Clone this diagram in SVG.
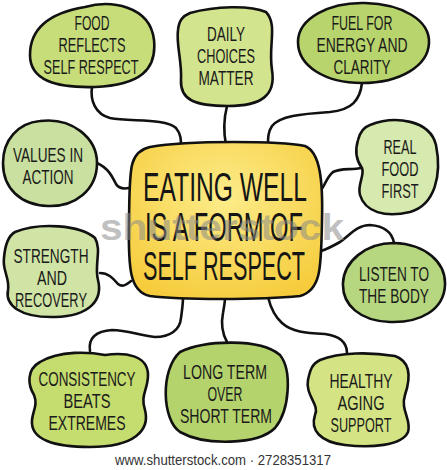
<svg xmlns="http://www.w3.org/2000/svg" width="447" height="470" viewBox="0 0 447 470">
<style>
.blob{stroke:#111;stroke-width:2.6;stroke-linejoin:round}
.lbl{font-family:"Liberation Sans","DejaVu Sans",sans-serif;font-size:20px;fill:#1a1a1a;text-anchor:middle}
.big{font-family:"Liberation Sans","DejaVu Sans",sans-serif;font-size:40px;fill:#151515;text-anchor:middle}
.conn path{fill:none;stroke:#111;stroke-width:2.6;stroke-linecap:round}
</style>
<defs>
<radialGradient id="yg" cx="0.5" cy="0.35" r="0.7">
<stop offset="0" stop-color="#fcec8a"/>
<stop offset="1" stop-color="#f6cc3c"/>
</radialGradient>
</defs>
<rect width="447" height="470" fill="#ffffff"/>
<g id="connectors" class="conn">
<path d="M92,87 C90,100 95,114 110,118 C130,122 165,118 176,128 C181,134 181,140 181,146"/>
<path d="M227,106 C224,118 223,130 226,145"/>
<path d="M362,83 C360,100 352,110 330,112 C300,114 280,116 272,126 C268,132 268,138 268,145"/>
<path d="M97,163 C108,168 112,176 116,184 C119,189 124,189 129,188"/>
<path d="M100,273 C108,273 113,278 118,284 C123,288 127,284 131,281"/>
<path d="M362,168 C350,170 340,168 333,172 C326,178 325,186 320,191"/>
<path d="M394,243 C392,232 384,226 370,225 C357,225 350,235 340,242 C333,246 327,249 321,251"/>
<path d="M90,351 C88,338 96,331 112,330 C128,330 140,336 155,337 C170,337 180,330 181,318 C182,310 183,305 183,297"/>
<path d="M227,342 C222,333 221,323 223,313 C224,307 225,302 225,298"/>
<path d="M347,353 C347,342 340,336 325,334 C305,333 292,332 282,323 C274,316 270,305 268,297"/>
</g>
<g id="center">
<path class="blob" fill="url(#yg)" d="M150,147 C190,140 280,141 305,146 C320,152 323,180 322,220 C321,265 322,290 300,296 C260,300 180,300 150,296 C130,292 128,270 129,220 C130,170 128,152 150,147 Z"/>
<text class="big" x="225" y="201" textLength="164" lengthAdjust="spacingAndGlyphs">EATING WELL</text>
<text class="big" x="224" y="241" textLength="158" lengthAdjust="spacingAndGlyphs">IS A FORM OF</text>
<text class="big" x="224" y="280" textLength="162" lengthAdjust="spacingAndGlyphs">SELF RESPECT</text>
</g>
<g id="food-reflects">
<path class="blob" fill="#c6dd7a" d="M85,7 C110,0 150,5 154,40 C157,70 140,85 95,87 C55,88 30,80 30,55 C30,25 55,12 85,7 Z"/>
<text class="lbl" x="92" y="30" textLength="35" lengthAdjust="spacingAndGlyphs">FOOD</text>
<text class="lbl" x="92" y="52" textLength="67" lengthAdjust="spacingAndGlyphs">REFLECTS</text>
<text class="lbl" x="91" y="74" textLength="95" lengthAdjust="spacingAndGlyphs">SELF RESPECT</text>
</g>
<g id="daily-choices">
<path class="blob" fill="#d3e48e" d="M190,13 C215,6 250,5 266,12 C278,25 268,45 272,70 C276,95 262,106 228,106 C195,106 180,100 181,80 C182,60 176,45 178,30 C179,20 183,16 190,13 Z"/>
<text class="lbl" x="226" y="41" textLength="38" lengthAdjust="spacingAndGlyphs">DAILY</text>
<text class="lbl" x="226" y="63" textLength="58" lengthAdjust="spacingAndGlyphs">CHOICES</text>
<text class="lbl" x="226" y="85" textLength="55" lengthAdjust="spacingAndGlyphs">MATTER</text>
</g>
<g id="fuel">
<path class="blob" fill="#b8d46c" d="M298,42 C298,18 330,2 365,3 C402,4 430,20 429,43 C428,66 400,83 362,83 C325,83 298,66 298,42 Z"/>
<text class="lbl" x="362" y="30" textLength="61" lengthAdjust="spacingAndGlyphs">FUEL FOR</text>
<text class="lbl" x="362" y="52" textLength="91" lengthAdjust="spacingAndGlyphs">ENERGY AND</text>
<text class="lbl" x="362" y="74" textLength="57" lengthAdjust="spacingAndGlyphs">CLARITY</text>
</g>
<g id="values">
<path class="blob" fill="#c9e0a0" d="M40,121 C72,117 97,138 97,163 C97,190 75,207 48,206 C20,205 3,188 3,163 C3,140 18,123 40,121 Z"/>
<text class="lbl" x="48" y="162" textLength="70" lengthAdjust="spacingAndGlyphs">VALUES IN</text>
<text class="lbl" x="48" y="184" textLength="51" lengthAdjust="spacingAndGlyphs">ACTION</text>
</g>
<g id="strength">
<path class="blob" fill="#d0e4a6" d="M15,232 C40,222 80,225 95,238 C102,250 94,265 98,280 C103,300 90,316 55,317 C20,318 5,305 8,290 C10,278 2,270 4,258 C5,245 8,236 15,232 Z"/>
<text class="lbl" x="51" y="263" textLength="75" lengthAdjust="spacingAndGlyphs">STRENGTH</text>
<text class="lbl" x="52" y="285" textLength="30" lengthAdjust="spacingAndGlyphs">AND</text>
<text class="lbl" x="51" y="307" textLength="72" lengthAdjust="spacingAndGlyphs">RECOVERY</text>
</g>
<g id="real-food">
<path class="blob" fill="#d6e9ae" d="M370,125 C395,115 430,120 436,145 C442,175 435,205 410,212 C385,218 365,212 360,195 C357,185 365,175 362,168 C356,160 355,150 358,140 C360,132 364,127 370,125 Z"/>
<text class="lbl" x="400" y="154" textLength="33" lengthAdjust="spacingAndGlyphs">REAL</text>
<text class="lbl" x="400" y="176" textLength="37" lengthAdjust="spacingAndGlyphs">FOOD</text>
<text class="lbl" x="400" y="198" textLength="37" lengthAdjust="spacingAndGlyphs">FIRST</text>
</g>
<g id="listen">
<path class="blob" fill="#b6d77f" d="M394,243 C425,244 446,262 445,285 C444,310 420,323 390,322 C360,321 342,305 343,283 C344,262 365,243 394,243 Z"/>
<text class="lbl" x="394" y="281" textLength="70" lengthAdjust="spacingAndGlyphs">LISTEN TO</text>
<text class="lbl" x="394" y="303" textLength="70" lengthAdjust="spacingAndGlyphs">THE BODY</text>
</g>
<g id="consistency">
<path class="blob" fill="#c5dc6e" d="M40,362 C60,350 90,352 105,355 C125,352 148,355 148,375 C148,390 140,395 145,410 C150,430 135,447 90,447 C55,447 30,440 32,420 C33,410 38,405 34,395 C28,385 26,370 40,362 Z"/>
<text class="lbl" x="87" y="386" textLength="97" lengthAdjust="spacingAndGlyphs">CONSISTENCY</text>
<text class="lbl" x="87" y="408" textLength="47" lengthAdjust="spacingAndGlyphs">BEATS</text>
<text class="lbl" x="87" y="430" textLength="77" lengthAdjust="spacingAndGlyphs">EXTREMES</text>
</g>
<g id="long-term">
<path class="blob" fill="#b4d36c" d="M180,352 C205,340 260,338 280,355 C292,370 290,410 275,428 C258,445 205,446 180,432 C162,420 160,370 180,352 Z"/>
<text class="lbl" x="225" y="379" textLength="84" lengthAdjust="spacingAndGlyphs">LONG TERM</text>
<text class="lbl" x="225" y="401" textLength="35" lengthAdjust="spacingAndGlyphs">OVER</text>
<text class="lbl" x="226" y="423" textLength="92" lengthAdjust="spacingAndGlyphs">SHORT TERM</text>
</g>
<g id="healthy">
<path class="blob" fill="#d4e484" d="M320,360 C340,352 370,352 395,356 C412,362 410,380 405,395 C400,410 412,420 408,432 C402,446 370,448 345,445 C320,442 310,430 315,415 C320,405 305,395 308,380 C310,370 312,364 320,360 Z"/>
<text class="lbl" x="361" y="388" textLength="63" lengthAdjust="spacingAndGlyphs">HEALTHY</text>
<text class="lbl" x="361" y="410" textLength="47" lengthAdjust="spacingAndGlyphs">AGING</text>
<text class="lbl" x="361" y="432" textLength="61" lengthAdjust="spacingAndGlyphs">SUPPORT</text>
</g>
<text x="222" y="240" font-family="Liberation Sans, sans-serif" font-size="37" font-weight="bold" fill="#8a8a8a" fill-opacity="0.55" text-anchor="middle" textLength="244" lengthAdjust="spacingAndGlyphs">shutterstock</text>
<text x="223" y="465" font-family="Liberation Sans, sans-serif" font-size="14.5" fill="#333" text-anchor="middle" textLength="216" lengthAdjust="spacingAndGlyphs">www.shutterstock.com · 2728351317</text>
</svg>
